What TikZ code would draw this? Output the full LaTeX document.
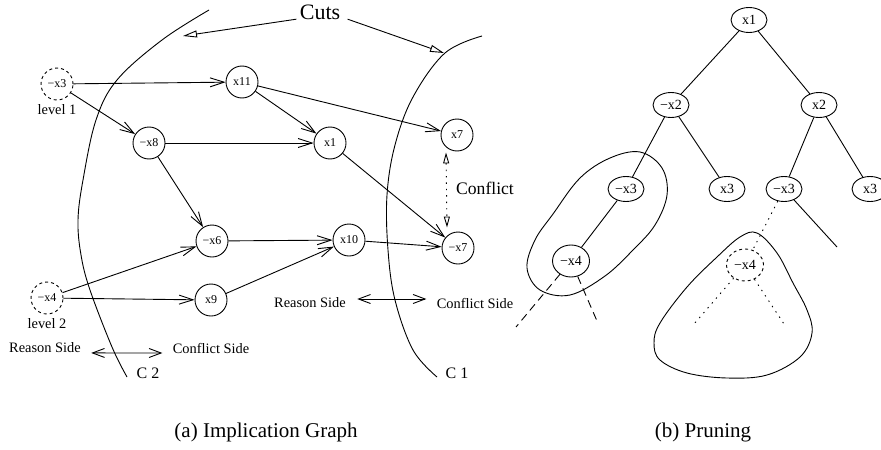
\documentclass[tikz,border=0pt]{standalone}
\usepackage{fontspec}
\setmainfont{Liberation Serif}
\usetikzlibrary{arrows.meta,positioning,shapes.geometric}

\begin{document}
\begin{tikzpicture}[
  x=0.5pt, y=-0.5pt,
  line width=0.45pt,
  gnode/.style={circle, draw, minimum size=16pt, inner sep=0pt,
                font=\fontsize{6}{7}\selectfont},
  dnode/.style={gnode, dash pattern=on 1.5pt off 1.5pt},
  tnode/.style={ellipse, draw, minimum width=18pt, minimum height=12.5pt,
                inner sep=0pt, font=\fontsize{7}{8}\selectfont},
  bignode/.style={tnode, minimum width=18.5pt, minimum height=16pt},
  lbl/.style={font=\fontsize{7.2}{8}\selectfont, inner sep=1pt},
  imp/.style={-{Straight Barb[length=7pt,width=4.5pt]}},
  cut/.style={-{Triangle[open,length=7pt,width=3.5pt]}},
  side/.style={{Straight Barb[length=6pt,width=4.5pt]}-{Straight Barb[length=6pt,width=4.5pt]}},
  dots/.style={dash pattern=on 0.7pt off 2.5pt},
  dashes/.style={dash pattern=on 4pt off 2.5pt},
]
\useasboundingbox (0,0) rectangle (881,449);

% the two cuts C2 and C1
\draw plot[smooth, tension=0.6] coordinates {(209,10) (162,40) (117,80) (96,120)
  (83,180) (78,220) (81,255) (90,290) (112,347) (127,377)};
\draw plot[smooth, tension=0.6] coordinates {(482,36) (445,53) (413,97) (395,145)
  (387,195) (388,250) (395,300) (413,350) (437,377)};
\node[lbl, font=\fontsize{8}{9}\selectfont] (c2) at (148,373) {C 2};
\node[lbl, font=\fontsize{8}{9}\selectfont] (c1) at (457,373) {C 1};

\node[inner sep=1.5pt, font=\fontsize{11}{12}\selectfont] (cuts) at (320,12) {Cuts};
\coordinate (cutL) at (183,36);
\coordinate (cutR) at (444,53);
\draw[cut] (cuts.base west) -- (cutL);
\draw[cut] ([xshift=2pt]cuts.base east) -- (cutR);

% implication graph
\node[dnode] (nx3) at (57,84) {−x3};
\node[lbl, below=1pt of nx3] (lev1) {level 1};
\node[gnode] (x11) at (242,82) {x11};
\node[gnode] (nx8) at (149,143) {−x8};
\node[gnode] (x1) at (330,143) {x1};
\node[gnode] (x7) at (457,135) {x7};
\node[gnode] (nx6) at (212,241) {−x6};
\node[gnode] (x10) at (349,240) {x10};
\node[gnode] (nx7) at (458,248) {−x7};
\node[dnode] (nx4) at (47,298) {−x4};
\node[lbl, below=1pt of nx4] (lev2) {level 2};
\node[gnode] (x9) at (211,300) {x9};

\draw[imp] (nx3) -- (x11);
\draw[imp] (nx3) -- (nx8);
\draw[imp] (x11) -- (x1);
\draw[imp] (x11) -- (x7);
\draw[imp] (nx8) -- (x1);
\draw[imp] (nx8) -- (nx6);
\draw[imp] (x1) -- (nx7);
\draw[imp] (nx6) -- (x10);
\draw[imp] (x10) -- (nx7);
\draw[imp] (nx4) -- (nx6);
\draw[imp] (nx4) -- (x9);
\draw[imp] (x9) -- (x10);

% conflict between x7 and -x7
\draw[dots, {Triangle[open,length=5.5pt,width=3pt]}-{Triangle[open,length=5.5pt,width=3pt]}]
  ([xshift=-5.5pt,yshift=-0.5pt]x7.south) -- ([xshift=-5.5pt,yshift=2pt]nx7.north);
\node[font=\fontsize{8.8}{10}\selectfont] (conf) at (485,188) {Conflict};

% sides of the cuts
\node[lbl] (rs1) at (45,348) {Reason Side};
\node[lbl] (cs1) at (211,348) {Conflict Side};
\draw[side, shorten <=4pt, shorten >=4pt] (rs1.base east) -- (cs1.base west);
\node[lbl] (rs2) at (310,303) {Reason Side};
\node[lbl] (cs2) at (475,303) {Conflict Side};
\draw[side, shorten <=4.5pt, shorten >=4pt] ([yshift=2pt]rs2.east) -- ([yshift=2pt]cs2.west);

% search tree
\node[tnode] (t1) at (749,20) {x1};
\node[tnode] (t2a) at (671,105) {−x2};
\node[tnode] (t2b) at (819,105) {x2};
\node[tnode] (t3a) at (626,189) {−x3};
\node[tnode] (t3b) at (727,189) {x3};
\node[tnode] (t3c) at (784,189) {−x3};
\node[tnode] (t3d) at (870,189) {x3};
\node[bignode] (t4a) at (571,261) {−x4};
\node[bignode, dash pattern=on 1.5pt off 1.5pt] (t4b) at (745,265) {−x4};

\draw (t1) -- (t2a);
\draw (t1) -- (t2b);
\draw (t2a) -- (t3a);
\draw (t2a) -- (t3b);
\draw (t2b) -- (t3c);
\draw (t2b) -- (t3d);
\draw (t3a) -- (t4a);
\draw[dots] (t3c) -- (t4b);
\coordinate (stub) at (837,247);
\draw (t3c) -- (stub);

\coordinate (l1) at (516,327);
\coordinate (l2) at (597,321);
\draw[dashes] (t4a) -- (l1);
\draw[dashes] (t4a) -- (l2);
\coordinate (r1) at (694,324);
\coordinate (r2) at (786,327);
\draw[dots] (t4b) -- (r1);
\draw[dots] (t4b) -- (r2);

% learned clause around -x3/-x4 and the pruned subtree
\draw plot[smooth cycle, tension=0.6] coordinates {(640,152) (662,168) (667,195)
  (655,225) (633,250) (605,276) (570,295) (540,290) (527,268) (535,240)
  (553,214) (580,178) (610,158)};
\draw plot[smooth cycle, tension=0.6] coordinates {(757,233) (777,253) (793,283)
  (807,310) (812,333) (800,357) (767,375) (727,378) (687,373) (660,360)
  (654,343) (660,323) (687,287) (717,257) (740,237)};

% captions
\node[font=\fontsize{10.5}{12}\selectfont] (capa) at (266,432) {(a) Implication Graph};
\node[font=\fontsize{10.5}{12}\selectfont] (capb) at (703,432) {(b) Pruning};
\end{tikzpicture}
\end{document}
